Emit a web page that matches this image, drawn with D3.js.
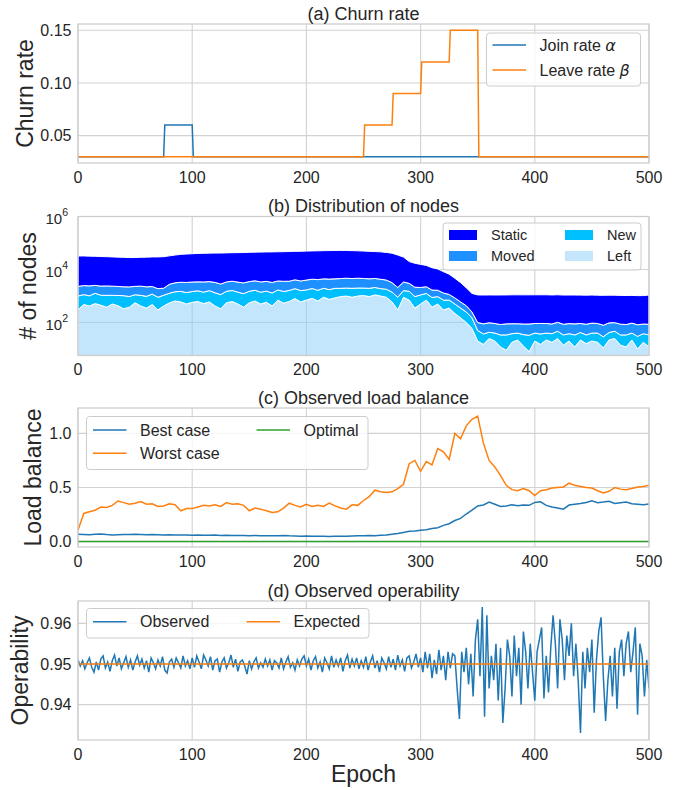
<!DOCTYPE html>
<html>
<head>
<meta charset="utf-8">
<script src="https://cdn.jsdelivr.net/npm/d3@7"></script>
<style>
  body { margin: 0; background: #fff; }
  text { font-family: Arial, "Liberation Sans", sans-serif; fill: #262626; }
</style>
</head>
<body>
<svg id="chart"></svg>
<script>
'use strict'

// ---- data ----
// (a) churn rates, step changes
const joinEpochs = [0, 75, 76, 100, 101, 500]
const joinRate = [0.03, 0.03, 0.06, 0.06, 0.03, 0.03]
const leaveEpochs = [0, 250, 251, 275, 276, 300, 301, 325, 326, 350, 351, 500]
const leaveRate = [0.03, 0.03, 0.06, 0.06, 0.09, 0.09, 0.12, 0.12, 0.15, 0.15, 0.03, 0.03]

// (b) node counts per category, every 5 epochs
const nodeEpochs = d3.range(0, 501, 5)
const leftNodes = [
  300, 480, 420, 520, 450, 380, 500, 430, 330, 380, 560, 420, 350, 480, 300, 420, 550, 650, 600, 500,
  580, 620, 520, 600, 420, 330, 560, 620, 500, 380, 560, 650, 500, 580, 420, 700, 540, 620, 800, 600,
  700, 820, 650, 900, 750, 850, 950, 1000, 900, 1000, 1050, 950, 1100, 1000, 900, 600, 300, 900, 700, 350,
  500, 700, 380, 500, 300, 350, 220, 150, 100, 60, 20, 15, 25, 20, 12, 9, 18, 22, 13, 8,
  20, 15, 22, 18, 25, 14, 20, 12, 22, 16, 20, 18, 11, 22, 25, 14, 12, 22, 10, 18, 12]
const newNodes = [
  700, 650, 600, 750, 620, 680, 560, 620, 700, 580, 560, 640, 620, 700, 600, 650, 720, 800, 900, 850,
  900, 950, 880, 1000, 900, 800, 950, 1000, 900, 850, 950, 1000, 900, 950, 880, 1000, 950, 1000, 1100, 1000,
  1000, 1100, 1000, 1050, 1000, 1100, 1000, 1000, 1050, 1000, 950, 1000, 1000, 900, 900, 800, 600, 700, 800, 600,
  600, 550, 500, 450, 400, 350, 280, 200, 150, 90, 30, 22, 18, 20, 22, 25, 20, 18, 22, 25,
  20, 22, 18, 20, 22, 20, 18, 22, 20, 18, 20, 22, 18, 20, 22, 20, 22, 18, 20, 20, 22]
const movedNodes = [
  1300, 1350, 1400, 1250, 1300, 1350, 1300, 1250, 1200, 1250, 1200, 1300, 1250, 1100, 1000, 900, 1500, 1700, 1800, 1900,
  1900, 1850, 2000, 1900, 1950, 1700, 1900, 2000, 1950, 1900, 2000, 2100, 2000, 2050, 1950, 2000, 2100, 2000, 2200, 2100,
  2300, 2400, 2500, 2500, 2600, 2500, 2600, 2700, 2600, 2700, 2600, 2500, 2500, 2400, 2200, 1800, 1200, 1800, 1500, 1200,
  1000, 1000, 800, 700, 600, 450, 350, 250, 180, 100, 50, 52, 55, 52, 50, 55, 52, 50, 53, 55,
  52, 55, 52, 50, 55, 52, 53, 55, 50, 52, 55, 52, 50, 55, 52, 53, 50, 55, 52, 50, 52]
const staticNodes = [
  30000, 30000, 29500, 29000, 28500, 28000, 27500, 27000, 26500, 26000, 26000, 26500, 27000, 27500, 28000, 28500, 30000, 32000, 34000, 35000,
  36000, 37000, 37500, 38000, 38500, 39000, 39000, 39500, 40000, 40500, 41000, 41500, 42000, 42500, 43000, 43000, 43500, 44000, 44500, 45000,
  45500, 46000, 46500, 47000, 47500, 48000, 48000, 47500, 47000, 46000, 45000, 44000, 43000, 42000, 40000, 38000, 33000, 26000, 17000, 15000,
  13500, 12000, 10000, 8800, 7000, 5500, 3800, 2600, 1600, 1000, 1000, 1000, 1000, 1000, 1010, 1010, 1020, 1020, 1020, 1020,
  1020, 1020, 1020, 1010, 1010, 1000, 1000, 1000, 990, 990, 990, 980, 980, 980, 970, 970, 960, 960, 950, 950, 1000]
const nodeKeys = ['Static', 'Moved', 'New', 'Left']

// (c) load balance, every 5 epochs
const loadEpochs = d3.range(0, 501, 5)
const bestCase = [
  0.068, 0.066, 0.064, 0.068, 0.070, 0.065, 0.062, 0.064, 0.066, 0.065,
  0.068, 0.066, 0.064, 0.065, 0.063, 0.062, 0.064, 0.062, 0.060, 0.061,
  0.058, 0.060, 0.059, 0.058, 0.060, 0.057, 0.058, 0.056, 0.057, 0.056,
  0.055, 0.056, 0.054, 0.053, 0.055, 0.054, 0.056, 0.053, 0.052, 0.050,
  0.052, 0.050, 0.049, 0.050, 0.048, 0.050, 0.049, 0.050, 0.052, 0.053,
  0.054, 0.056, 0.055, 0.058, 0.062, 0.068, 0.075, 0.085, 0.095, 0.098,
  0.105, 0.110, 0.120, 0.128, 0.150, 0.165, 0.195, 0.215, 0.255, 0.290,
  0.330, 0.338, 0.365, 0.345, 0.325, 0.330, 0.340, 0.332, 0.338, 0.335,
  0.362, 0.368, 0.335, 0.320, 0.310, 0.300, 0.338, 0.345, 0.352, 0.362,
  0.378, 0.360, 0.365, 0.372, 0.352, 0.360, 0.365, 0.350, 0.345, 0.340,
  0.348]
const worstCase = [
  0.105, 0.260, 0.275, 0.290, 0.320, 0.315, 0.335, 0.375, 0.360, 0.345,
  0.355, 0.370, 0.345, 0.350, 0.325, 0.330, 0.350, 0.340, 0.285, 0.305,
  0.305, 0.320, 0.335, 0.330, 0.340, 0.325, 0.360, 0.345, 0.350, 0.335,
  0.285, 0.310, 0.300, 0.285, 0.270, 0.275, 0.310, 0.355, 0.335, 0.320,
  0.345, 0.325, 0.335, 0.325, 0.355, 0.330, 0.310, 0.300, 0.340, 0.335,
  0.380, 0.415, 0.475, 0.460, 0.455, 0.460, 0.490, 0.530, 0.720, 0.750,
  0.650, 0.740, 0.710, 0.860, 0.830, 0.760, 1.000, 0.950, 1.070, 1.130,
  1.160, 0.910, 0.750, 0.690, 0.610, 0.520, 0.480, 0.470, 0.490, 0.470,
  0.425, 0.470, 0.480, 0.495, 0.500, 0.505, 0.540, 0.520, 0.510, 0.500,
  0.495, 0.470, 0.450, 0.465, 0.500, 0.485, 0.480, 0.490, 0.505, 0.510,
  0.520]
const optimalLoad = 0

// (d) operability, every 2 epochs
const opEpochs = d3.range(0, 501, 2)
const observedOp = [
  0.9510, 0.9495, 0.9508, 0.9488, 0.9503, 0.9515, 0.9492, 0.9480, 0.9505, 0.9485,
  0.9512, 0.9520, 0.9490, 0.9505, 0.9482, 0.9508, 0.9522, 0.9495, 0.9515, 0.9488,
  0.9503, 0.9518, 0.9492, 0.9510, 0.9485, 0.9505, 0.9520, 0.9497, 0.9512, 0.9490,
  0.9508, 0.9480, 0.9515, 0.9503, 0.9488, 0.9510, 0.9495, 0.9518, 0.9485, 0.9478,
  0.9505, 0.9512, 0.9492, 0.9515, 0.9503, 0.9490, 0.9520, 0.9495, 0.9508, 0.9488,
  0.9515, 0.9492, 0.9520, 0.9505, 0.9488, 0.9522, 0.9510, 0.9495, 0.9518, 0.9485,
  0.9508, 0.9512, 0.9480, 0.9505, 0.9515, 0.9490, 0.9503, 0.9522, 0.9492, 0.9512,
  0.9482, 0.9505, 0.9510, 0.9495, 0.9475, 0.9508, 0.9488, 0.9505, 0.9515, 0.9490,
  0.9503, 0.9492, 0.9512, 0.9495, 0.9510, 0.9485, 0.9508, 0.9503, 0.9490, 0.9515,
  0.9488, 0.9505, 0.9518, 0.9492, 0.9503, 0.9485, 0.9510, 0.9495, 0.9512, 0.9520,
  0.9495, 0.9512, 0.9485, 0.9508, 0.9518, 0.9490, 0.9505, 0.9480, 0.9515, 0.9503,
  0.9488, 0.9520, 0.9492, 0.9510, 0.9495, 0.9515, 0.9482, 0.9508, 0.9522, 0.9490,
  0.9512, 0.9495, 0.9515, 0.9488, 0.9508, 0.9492, 0.9518, 0.9485, 0.9505, 0.9520,
  0.9490, 0.9508, 0.9480, 0.9515, 0.9503, 0.9488, 0.9518, 0.9492, 0.9512, 0.9485,
  0.9522, 0.9495, 0.9510, 0.9482, 0.9515, 0.9520, 0.9490, 0.9505, 0.9525, 0.9492,
  0.9515, 0.9480, 0.9530, 0.9490, 0.9525, 0.9465, 0.9510, 0.9475, 0.9535, 0.9485,
  0.9520, 0.9460, 0.9530, 0.9490, 0.9525, 0.9520, 0.9440, 0.9365, 0.9530, 0.9480,
  0.9540, 0.9450, 0.9525, 0.9420, 0.9560, 0.9610, 0.9470, 0.9640, 0.9370, 0.9620,
  0.9440, 0.9520, 0.9460, 0.9550, 0.9410, 0.9540, 0.9355, 0.9440, 0.9560, 0.9520,
  0.9420, 0.9570, 0.9470, 0.9540, 0.9400, 0.9580, 0.9530, 0.9440, 0.9550, 0.9480,
  0.9410, 0.9530, 0.9560, 0.9590, 0.9415, 0.9520, 0.9430, 0.9540, 0.9620, 0.9550,
  0.9440, 0.9610, 0.9560, 0.9460, 0.9570, 0.9520, 0.9600, 0.9470, 0.9550, 0.9460,
  0.9330, 0.9530, 0.9440, 0.9540, 0.9480, 0.9560, 0.9380, 0.9510, 0.9580, 0.9615,
  0.9470, 0.9360, 0.9460, 0.9520, 0.9420, 0.9540, 0.9390, 0.9530, 0.9560, 0.9470,
  0.9550, 0.9580, 0.9480, 0.9530, 0.9590, 0.9375, 0.9550, 0.9520, 0.9420, 0.9510,
  0.9440]
const expectedOp = 0.95

const epochTicks = [0, 100, 200, 300, 400, 500]

// ---- layout ----
const W = 688, H = 790
const L = 78, R = 649, PH = 139
const tops = [24, 216.5, 408, 601]
const blue = '#1f77b4', orange = '#ff7f0e', green = '#2ca02c'
const gridCol = '#d2d2d2', spineCol = '#cccccc'
const nodeColors = { Static: '#0000ff', Moved: '#1e90ff', New: '#00bfff', Left: '#87cefa' }

const svg = d3.select('#chart').attr('width', W).attr('height', H)
const defs = svg.append('defs')
const x = d3.scaleLinear().domain([0, 500]).range([L, R])

// builds grid, title, y label and tick labels; returns layers for data and frame
function makePanel(i, y, yTicks, fmt, title, ylabel, labelX) {
  const top = tops[i]
  defs.append('clipPath').attr('id', 'clip' + i)
    .append('rect').attr('x', L).attr('y', top).attr('width', R - L).attr('height', PH)

  const grid = svg.append('g')
  grid.selectAll('line.v').data(epochTicks).join('line')
    .attr('x1', d => x(d)).attr('x2', d => x(d))
    .attr('y1', top).attr('y2', top + PH)
    .attr('stroke', gridCol).attr('stroke-width', 1.1)
  grid.selectAll('line.h').data(yTicks).join('line')
    .attr('x1', L).attr('x2', R)
    .attr('y1', d => y(d)).attr('y2', d => y(d))
    .attr('stroke', gridCol).attr('stroke-width', 1.1)

  const data = svg.append('g').attr('clip-path', `url(#clip${i})`)
  const front = svg.append('g')

  front.append('rect').attr('x', L).attr('y', top).attr('width', R - L).attr('height', PH)
    .attr('fill', 'none').attr('stroke', spineCol).attr('stroke-width', 1.25)

  // x tick labels
  front.selectAll('text.xt').data(epochTicks).join('text')
    .attr('x', d => x(d)).attr('y', top + PH + 19.5)
    .attr('text-anchor', 'middle').style('font-size', '16px').text(d => d)

  // y tick labels
  if (fmt) {
    front.selectAll('text.yt').data(yTicks).join('text')
      .attr('x', 71.5).attr('y', d => y(d)).attr('dy', '0.36em')
      .attr('text-anchor', 'end').style('font-size', '16px').text(fmt)
  }

  front.append('text').attr('x', (L + R) / 2).attr('y', top - 4.5)
    .attr('text-anchor', 'middle').style('font-size', '18px').text(title)

  front.append('text')
    .attr('transform', `translate(${labelX},${top + PH / 2}) rotate(-90)`)
    .attr('text-anchor', 'middle').style('font-size', '23px').text(ylabel)

  return { data, front, top }
}

function legendBox(g, x0, y0, w, h) {
  g.append('rect').attr('x', x0).attr('y', y0).attr('width', w).attr('height', h)
    .attr('rx', 3).attr('fill', '#fff').attr('fill-opacity', 0.8)
    .attr('stroke', '#cccccc').attr('stroke-width', 1)
}
function legendLine(g, x0, yc, color, label, size) {
  g.append('line').attr('x1', x0).attr('x2', x0 + 33.5).attr('y1', yc).attr('y2', yc)
    .attr('stroke', color).attr('stroke-width', 1.5)
  return g.append('text').attr('x', x0 + 47).attr('y', yc).attr('dy', '0.36em')
    .style('font-size', size || '16px').text(label)
}

const line = (xs, ys, yScale) => d3.line().x((d, k) => x(xs[k])).y(d => yScale(d))(ys)

// ---- (a) Churn rate ----
const yA = d3.scaleLinear().domain([0.024, 0.156]).range([tops[0] + PH, tops[0]])
const pA = makePanel(0, yA, [0.05, 0.10, 0.15], d3.format('.2f'), '(a) Churn rate', 'Churn rate', 33)
pA.data.append('path').attr('d', line(joinEpochs, joinRate, yA))
  .attr('fill', 'none').attr('stroke', blue).attr('stroke-width', 1.5)
pA.data.append('path').attr('d', line(leaveEpochs, leaveRate, yA))
  .attr('fill', 'none').attr('stroke', orange).attr('stroke-width', 1.5)
legendBox(pA.front, 486.5, 33, 154, 53)
const tj = legendLine(pA.front, 492.5, 45, blue, 'Join rate ')
tj.append('tspan').style('font-family', '"DejaVu Sans"').style('font-style', 'italic').text('α')
const tl = legendLine(pA.front, 492.5, 70, orange, 'Leave rate ')
tl.append('tspan').style('font-family', '"DejaVu Sans"').style('font-style', 'italic').text('β')

// ---- (b) Distribution of nodes ----
const yB = d3.scaleLog().domain([5.7, 1e6]).range([tops[1] + PH, tops[1]])
const pB = makePanel(1, yB, [1e2, 1e4, 1e6], null, '(b) Distribution of nodes', '# of nodes', 36)
const nodeTable = nodeEpochs.map((e, k) => ({
  epoch: e, Left: leftNodes[k], New: newNodes[k], Moved: movedNodes[k], Static: staticNodes[k]
}))
const layers = d3.stack().keys(['Left', 'New', 'Moved', 'Static'])(nodeTable)
const area = d3.area()
  .x(d => x(d.data.epoch))
  .y0(d => d[0] > 0 ? yB(d[0]) : tops[1] + PH)
  .y1(d => yB(d[1]))
pB.data.selectAll('path.layer').data(layers).join('path')
  .attr('d', area)
  .attr('fill', d => nodeColors[d.key])
  .attr('fill-opacity', d => d.key === 'Left' ? 0.5 : 1)
  .attr('stroke', '#fff').attr('stroke-width', 1)
// log tick labels
const expLabels = pB.front.selectAll('text.yt').data([2, 4, 6]).join('text')
  .attr('x', 68).attr('y', d => yB(Math.pow(10, d)) + 7)
  .attr('text-anchor', 'end').style('font-size', '15px')
expLabels.append('tspan').text('10')
expLabels.append('tspan').attr('dy', -8).style('font-size', '10.5px').text(d => d)
legendBox(pB.front, 443, 223, 198, 47)
nodeKeys.forEach((k, j) => {
  const lx = j < 2 ? 449 : 565
  const ly = j % 2 === 0 ? 235 : 256
  pB.front.append('rect').attr('x', lx).attr('y', ly - 5).attr('width', 28).attr('height', 10)
    .attr('fill', nodeColors[k]).attr('fill-opacity', k === 'Left' ? 0.5 : 1)
  pB.front.append('text').attr('x', lx + 42).attr('y', ly).attr('dy', '0.36em')
    .style('font-size', '14.5px').text(k)
})

// ---- (c) Observed load balance ----
const yC = d3.scaleLinear().domain([-0.05, 1.235]).range([tops[2] + PH, tops[2]])
const pC = makePanel(2, yC, [0, 0.5, 1.0], d3.format('.1f'), '(c) Observed load balance', 'Load balance', 41)
pC.data.append('path').attr('d', line(loadEpochs, bestCase, yC))
  .attr('fill', 'none').attr('stroke', blue).attr('stroke-width', 1.5)
pC.data.append('path').attr('d', line(loadEpochs, worstCase, yC))
  .attr('fill', 'none').attr('stroke', orange).attr('stroke-width', 1.5)
pC.data.append('line').attr('x1', x(0)).attr('x2', x(500))
  .attr('y1', yC(optimalLoad)).attr('y2', yC(optimalLoad))
  .attr('stroke', green).attr('stroke-width', 1.5)
legendBox(pC.front, 86.5, 416.5, 281.5, 53)
legendLine(pC.front, 93, 430, blue, 'Best case')
legendLine(pC.front, 93, 453.3, orange, 'Worst case')
legendLine(pC.front, 256.5, 430, green, 'Optimal')

// ---- (d) Observed operability ----
const yD = d3.scaleLinear().domain([0.9313, 0.9655]).range([tops[3] + PH, tops[3]])
const pD = makePanel(3, yD, [0.94, 0.95, 0.96], d3.format('.2f'), '(d) Observed operability', 'Operability', 28)
pD.data.append('path').attr('d', line(opEpochs, observedOp, yD))
  .attr('fill', 'none').attr('stroke', blue).attr('stroke-width', 1.5)
pD.data.append('line').attr('x1', x(0)).attr('x2', x(500))
  .attr('y1', yD(expectedOp)).attr('y2', yD(expectedOp))
  .attr('stroke', orange).attr('stroke-width', 1.5)
legendBox(pD.front, 86.5, 608.5, 282.5, 29.5)
legendLine(pD.front, 93, 621.7, blue, 'Observed')
legendLine(pD.front, 246.5, 621.7, orange, 'Expected')

svg.append('text').attr('x', (L + R) / 2).attr('y', 781.5)
  .attr('text-anchor', 'middle').style('font-size', '23px').text('Epoch')
</script>
</body>
</html>
